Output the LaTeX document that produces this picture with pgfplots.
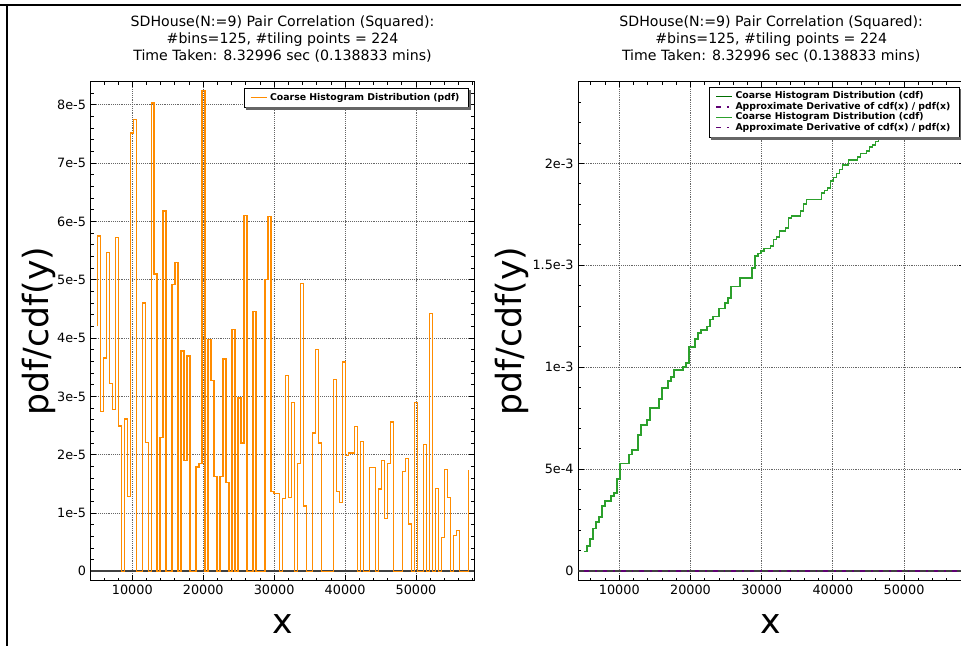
\documentclass[border=0pt]{standalone}
\usepackage{fontspec}
\setmainfont{DejaVu Sans}
\usepackage{pgfplots}
\pgfplotsset{compat=1.18}
\usepackage{pgfplotstable}

\definecolor{pdforange}{RGB}{255,140,0}
\definecolor{cdfA}{RGB}{0,110,0}
\definecolor{cdfB}{RGB}{44,160,44}
\definecolor{purp}{RGB}{95,0,115}

% pdf in units of 1e-5, cdf in units of 1e-4
\pgfplotstableread{
x pdf cdf
5068 4.2 0.949
5068 5.75 0.949
5490 2.74 1.211
5912 3.66 1.560
6333 5.47 2.083
6755 3.22 2.390
7177 2.78 2.656
7599 5.73 3.203
8021 2.49 3.441
8442 0 3.441
8864 2.61 3.690
9286 1.28 3.812
9708 7.52 4.530
10130 7.75 5.271
10551 0 5.271
10973 0 5.271
11395 4.60 5.710
11817 2.21 5.921
12239 0 5.921
12660 8.03 6.688
13082 5.10 7.175
13504 0 7.175
13926 2.30 7.394
14348 6.18 7.985
14769 0 7.985
15191 0 7.985
15613 4.92 8.454
16035 5.30 8.961
16457 0 8.961
16878 3.78 9.322
17300 1.90 9.503
17722 3.69 9.855
18144 0 9.855
18566 0 9.855
18987 1.79 10.026
19409 1.85 10.203
19831 8.25 10.991
20253 0 10.991
20675 3.97 11.370
21096 3.27 11.682
21518 1.63 11.838
21940 0 11.838
22362 1.63 11.994
22784 3.64 12.341
23205 1.52 12.486
23627 0 12.486
24049 4.15 12.883
24471 0 12.883
24893 2.97 13.166
25314 2.20 13.377
25736 6.10 13.959
26158 0 13.959
26580 0 13.959
27002 4.46 14.385
27423 0 14.385
27845 0 14.385
28267 0 14.385
28689 5.00 14.863
29111 6.09 15.444
29532 1.37 15.575
29954 1.33 15.702
30376 1.33 15.829
30798 0 15.829
31220 1.25 15.948
31641 3.36 16.269
32063 1.27 16.390
32485 2.90 16.667
32907 0 16.667
33329 1.85 16.844
33750 4.94 17.316
34172 1.12 17.423
34594 0 17.423
35016 0 17.423
35438 2.37 17.649
35859 3.80 18.012
36281 2.20 18.222
36703 0 18.222
37125 0 18.222
37547 0 18.222
37968 0 18.222
38390 3.29 18.536
38812 1.37 18.667
39234 1.18 18.780
39656 3.59 19.123
40077 1.99 19.313
40499 2.03 19.507
40921 2.03 19.701
41343 2.48 19.937
41765 0 19.937
42186 2.23 20.150
42608 0 20.150
43030 0 20.150
43452 1.78 20.320
43874 1.78 20.490
44295 0 20.490
44717 1.41 20.625
45139 1.90 20.806
45561 0.91 20.893
45983 1.85 21.070
46404 2.56 21.315
46826 0 21.315
47248 0 21.315
47670 0 21.315
48092 1.71 21.478
48513 1.93 21.662
48935 0.81 21.740
49357 0 21.740
49779 2.90 22.016
50201 0 22.016
50622 0 22.016
51044 2.17 22.224
51466 0 22.224
51888 4.42 22.646
52310 0 22.646
52731 1.42 22.781
53153 0 22.781
53575 0.58 22.837
53997 1.75 23.004
54419 1.27 23.125
54840 0 23.125
55262 0.61 23.183
55684 0.70 23.250
56106 0 23.250
56528 0 23.250
56949 0 23.250
57371 1.73 23.416
}\histdata

\pgfplotsset{
  common/.style={
    scale only axis,
    anchor=south west,
    height=374.25pt,
    scaled ticks=false,
    xtick={10000,20000,30000,40000,50000},
    xticklabels={10000,20000,30000,40000,50000},
    minor xtick={4000,6000,8000,12000,14000,16000,18000,22000,24000,26000,28000,32000,34000,36000,38000,42000,44000,46000,48000,52000,54000,56000,58000},
    xmajorgrids, ymajorgrids,
    major grid style={densely dotted, black!60, line width=0.6pt},
    axis line style={black, line width=0.8pt},
    tick style={black, line width=0.6pt},
    major tick length=4pt,
    minor tick length=2.2pt,
    tick label style={font=\fontsize{9.6}{11}\selectfont},
    title style={align=center, font=\fontsize{10.6}{12.75}\selectfont, inner sep=0pt, yshift=8.4pt},
    xlabel={x},
    ylabel={pdf/cdf(y)},
    every axis x label/.style={at={(rel axis cs:0.5,-0.086)}, anchor=center, font=\fontsize{26}{30}\selectfont},
    legend cell align=left,
    legend image code/.code={\draw[line width=1.1pt, ##1] (0pt,0pt) -- (12pt,0pt);},
    legend style={draw=black, fill=white,
      font=\fontsize{7}{8.3}\bfseries, inner xsep=4.5pt, inner ysep=1.5pt,
      row sep=-3pt},
  }
}

\begin{document}
\begin{tikzpicture}
\useasboundingbox (0pt,0pt) rectangle (720.75pt,484.5pt);
\draw[black, line width=1.1pt] (0pt,480.9pt) -- (720.75pt,480.9pt);
\draw[black, line width=1.1pt] (5.1pt,0pt) -- (5.1pt,480.9pt);

\begin{axis}[common,
  at={(68.03pt,49pt)}, width=287.7pt,
  xmin=4135, xmax=58219,
  ymin=-0.161, ymax=8.398,
  ytick={0,1,2,3,4,5,6,7,8},
  yticklabels={0,1e-5,2e-5,3e-5,4e-5,5e-5,6e-5,7e-5,8e-5},
  minor ytick={0.2,0.4,0.6,0.8,1.2,1.4,1.6,1.8,2.2,2.4,2.6,2.8,3.2,3.4,3.6,3.8,4.2,4.4,4.6,4.8,5.2,5.4,5.6,5.8,6.2,6.4,6.6,6.8,7.2,7.4,7.6,7.8,8.2},
  every axis y label/.style={at={(rel axis cs:-0.136,0.5)}, rotate=90, anchor=center, font=\fontsize{26}{30}\selectfont},
  title={SDHouse(N:=9) Pair Correlation (Squared):\\\#bins=125, \#tiling points = 224\\Time Taken: 8.32996 sec (0.138833 mins)},
  legend style={at={(0.9844,0.9868)}, anchor=north east, name=legL},
]
\addplot[forget plot, black!75, line width=1.2pt] coordinates {(4135,0) (58219,0)};
\addplot[const plot, pdforange, line width=1pt] table[x=x, y=pdf] {\histdata};
\addlegendentry{Coarse Histogram Distribution (pdf)}
\end{axis}
\fill[black!60] ([xshift=0.2pt,yshift=-1.6pt]legL.north east) rectangle ([xshift=1.8pt,yshift=-1.8pt]legL.south east);
\fill[black!60] ([xshift=1.6pt,yshift=-0.2pt]legL.south west) rectangle ([xshift=1.8pt,yshift=-1.8pt]legL.south east);

\begin{axis}[common,
  at={(433.73pt,49pt)}, width=289.3pt,
  xmin=4240, xmax=58427,
  ymin=-0.476, ymax=24.01,
  ytick={0,5,10,15,20},
  yticklabels={0,5e-4,1e-3,1.5e-3,2e-3},
  minor ytick={1,2,3,4,6,7,8,9,11,12,13,14,16,17,18,19,21,22,23,24},
  every axis y label/.style={at={(rel axis cs:-0.1727,0.5)}, rotate=90, anchor=center, font=\fontsize{26}{30}\selectfont},
  title={SDHouse(N:=9) Pair Correlation (Squared):\\\#bins=125, \#tiling points = 224\\Time Taken: 8.32996 sec (0.138833 mins)},
  legend style={at={(0.9878,0.9894)}, anchor=north east, name=legR},
]
\addplot[forget plot, black!75, line width=1.2pt] coordinates {(4240,0) (58427,0)};
\addplot[const plot, cdfA, line width=1.3pt] table[x=x, y=cdf] {\histdata};
\addlegendentry{Coarse Histogram Distribution (cdf)}
\addplot[purp, line width=1.5pt, dash pattern=on 3.5pt off 4.5pt on 1.3pt off 4.5pt] coordinates {(5068,0) (57371,0)};
\addlegendentry{Approximate Derivative of cdf(x) / pdf(x)}
\addplot[const plot, cdfB, line width=1.3pt] table[x=x, y=cdf] {\histdata};
\addlegendentry{Coarse Histogram Distribution (cdf)}
\addplot[purp, line width=1.5pt, dash pattern=on 3.5pt off 4.5pt on 1.3pt off 4.5pt] coordinates {(5068,0) (57371,0)};
\addlegendentry{Approximate Derivative of cdf(x) / pdf(x)}
\end{axis}
\fill[black!60] ([xshift=0.2pt,yshift=-1.6pt]legR.north east) rectangle ([xshift=1.8pt,yshift=-1.8pt]legR.south east);
\fill[black!60] ([xshift=1.6pt,yshift=-0.2pt]legR.south west) rectangle ([xshift=1.8pt,yshift=-1.8pt]legR.south east);
\end{tikzpicture}
\end{document}
